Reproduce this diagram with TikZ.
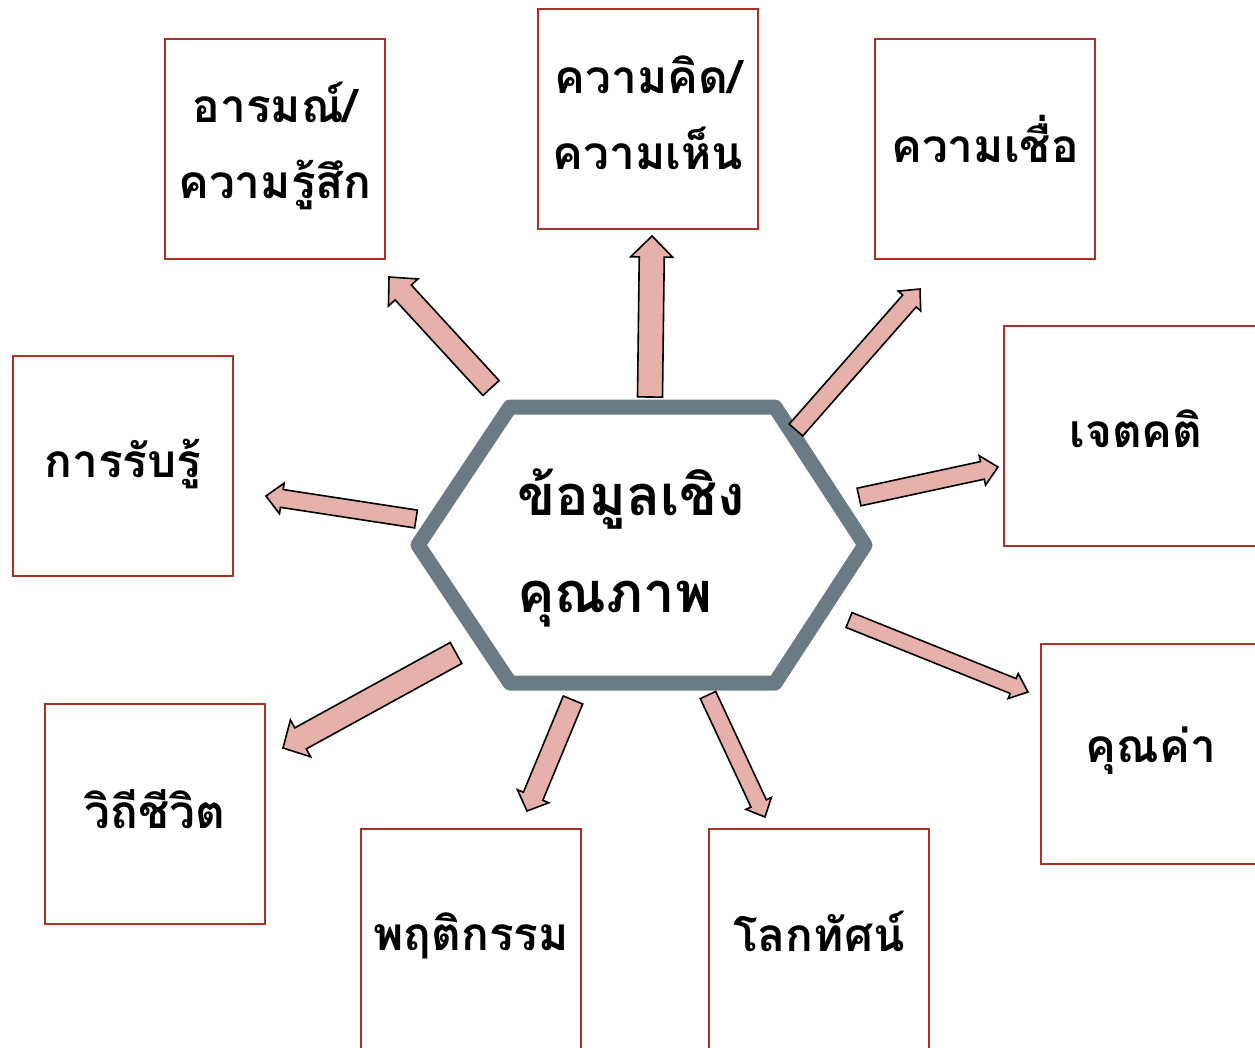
\documentclass[tikz,border=0pt]{standalone}
\usepackage{fontspec}
\newfontfamily\thaifont[Script=Thai]{Loma}
\usetikzlibrary{calc}

\definecolor{boxred}{RGB}{168,50,38}
\definecolor{hexgray}{RGB}{106,123,133}
\definecolor{arrowpink}{RGB}{230,177,170}

\newcommand{\boxsize}{\fontsize{46}{76}\selectfont}
\newcommand{\hexsize}{\fontsize{56}{97}\selectfont}

\tikzset{
  theme/.style={rectangle,draw=boxred,line width=2.2pt,minimum width=220pt,minimum height=220pt,inner sep=0pt},
  label/.style={align=center,font=\thaifont\bfseries\boxsize},
  fat/.style={fill=arrowpink,draw=black,line width=1.6pt,line join=miter},
  hexline/.style={draw=hexgray,line width=15pt,line join=round}
}

% block arrow: tail, tip, half shaft, half head, head length
\newcommand{\fatarrow}[5]{%
  \draw[fat] ($(#1)!#3!90:(#2)$) -- ($(#2)!#5!(#1)!#3!-90:(#1)$) -- ($(#2)!#5!(#1)!#4!-90:(#1)$)
    -- (#2) -- ($(#2)!#5!(#1)!#4!90:(#1)$) -- ($(#2)!#5!(#1)!#3!90:(#1)$)
    -- ($(#1)!#3!-90:(#2)$) -- cycle;}

\begin{document}
\begin{tikzpicture}[x=1pt,y=-1pt]
\useasboundingbox (0,0) rectangle (1255,1047);
\clip (0,0) rectangle (1255,1047);

% the nine boxes
\node[theme] (emo) at (275,149) {};
\node[label] (emo-t) at ([yshift=3pt]emo.center) {อารมณ์/\\ความรู้สึก};
\node[theme] (idea) at (648,119) {};
\node[label] (idea-t) at ([yshift=6pt]idea.center) {ความคิด/\\ความเห็น};
\node[theme] (belief) at (985,149) {};
\node[label] (belief-t) at ([yshift=10pt]belief.center) {ความเชื่อ};
\node[theme] (percep) at (123,466) {};
\node[label] (percep-t) at ([yshift=2pt]percep.center) {การรับรู้};
\node[theme,minimum width=264pt] (attit) at (1136,436) {};
\node[label] (attit-t) at ([yshift=7pt]attit.center) {เจตคติ};
\node[theme] (value) at (1151,754) {};
\node[label] (value-t) at ([yshift=3pt]value.center) {คุณค่า};
\node[theme] (life) at (155,814) {};
\node[label] (life-t) at ([yshift=5pt]life.center) {วิถีชีวิต};
\node[theme] (behav) at (471,939) {};
\node[label] (behav-t) at ([yshift=3pt]behav.center) {พฤติกรรม};
\node[theme] (world) at (819,939) {};
\node[label] (world-t) at ([yshift=8pt]world.center) {โลกทัศน์};

% the hexagon in the middle
\coordinate (h1) at (418,545);
\coordinate (h2) at (510,407);
\coordinate (h3) at (775,407);
\coordinate (h4) at (865,545);
\coordinate (h5) at (775,683);
\coordinate (h6) at (510,683);
\draw[hexline] (h1) -- (h2) -- (h3) -- (h4) -- (h5) -- (h6) -- cycle;
\node[font=\thaifont\bfseries\hexsize,align=left,anchor=west,inner sep=0pt] (core) at (517,548) {ข้อมูลเชิง\\คุณภาพ};

% arrow ends
\coordinate (emo-a) at (491,388);    \coordinate (emo-b) at (389,277);
\coordinate (idea-a) at (650,397);   \coordinate (idea-b) at (652,236);
\coordinate (belief-a) at (796,430); \coordinate (belief-b) at (920,289);
\coordinate (attit-a) at (859,497);  \coordinate (attit-b) at (998,467);
\coordinate (percep-a) at (416,519); \coordinate (percep-b) at (266,496);
\coordinate (life-a) at (456,653);   \coordinate (life-b) at (283,748);
\coordinate (behav-a) at (573,700);  \coordinate (behav-b) at (527,811);
\coordinate (world-a) at (708,695);  \coordinate (world-b) at (765,817);
\coordinate (value-a) at (849,620);  \coordinate (value-b) at (1028,692);

\fatarrow{emo-a}{emo-b}{11pt}{20pt}{21pt}
\fatarrow{idea-a}{idea-b}{12.5pt}{21pt}{21pt}
\fatarrow{belief-a}{belief-b}{9pt}{15pt}{16pt}
\fatarrow{attit-a}{attit-b}{9pt}{15pt}{16pt}
\fatarrow{percep-a}{percep-b}{9pt}{15.5pt}{16pt}
\fatarrow{life-a}{life-b}{12pt}{21pt}{20pt}
\fatarrow{behav-a}{behav-b}{10.5pt}{17pt}{16pt}
\fatarrow{world-a}{world-b}{8.5pt}{14pt}{15pt}
\fatarrow{value-a}{value-b}{8pt}{13.5pt}{16pt}
\end{tikzpicture}
\end{document}
